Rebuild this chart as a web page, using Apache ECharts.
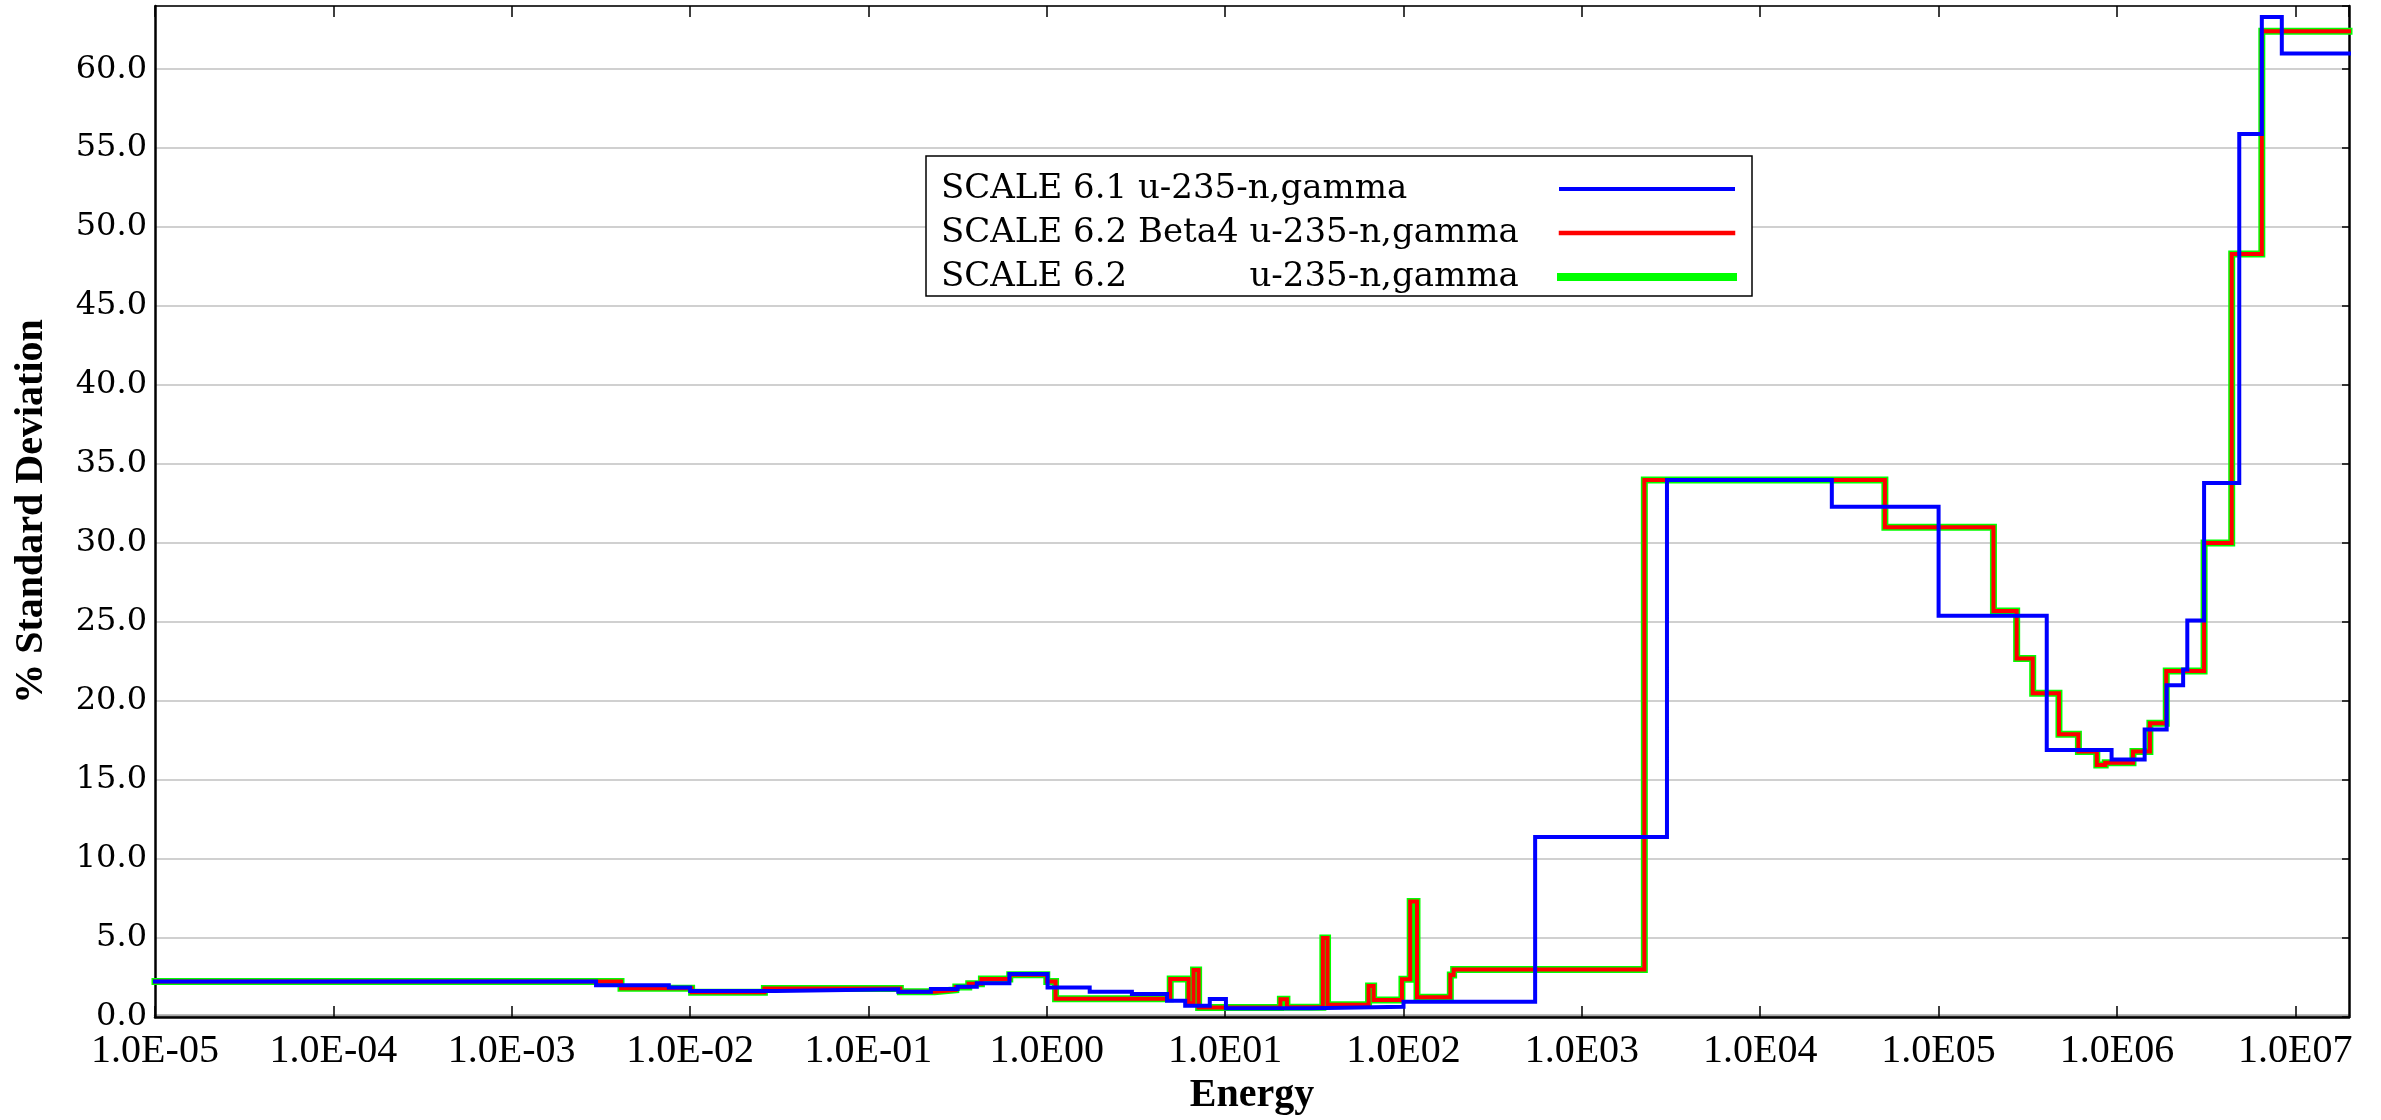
<!DOCTYPE html>
<html>
<head>
<meta charset="utf-8">
<title>% Standard Deviation vs Energy</title>
<script src="https://cdn.jsdelivr.net/npm/echarts@6/dist/echarts.min.js"></script>
<style>
  html, body { margin: 0; padding: 0; background: #ffffff; }
  #chart { width: 2381px; height: 1120px; }
</style>
</head>
<body>
<div id="chart"></div>
<script>
// Energy axis (log scale) range and decade tick labels
const energyMin = 1e-5;
const energyMax = 2e7;
const energyTickLabels = [
  '1.0E-05', '1.0E-04', '1.0E-03', '1.0E-02', '1.0E-01', '1.0E00',
  '1.0E01', '1.0E02', '1.0E03', '1.0E04', '1.0E05', '1.0E06', '1.0E07'
];

// Series names as shown in the legend
const seriesNames = [
  'SCALE 6.1 u-235-n,gamma',
  'SCALE 6.2 Beta4 u-235-n,gamma',
  'SCALE 6.2 u-235-n,gamma'
];

// SCALE 6.1: lower group boundaries (eV) and % standard deviation per group
const scale61Energy = [
  1e-5, 2.97e-3, 7.6e-3, 1.0e-2, 3.03e-2, 0.147, 0.224, 0.316, 0.405, 0.617,
  1.01, 1.74, 3.0, 4.72, 5.97, 8.2, 10.1, 30.4, 100, 547,
  3.0e3, 2.52e4, 1.0e5, 4.04e5, 9.33e5, 1.43e6, 1.90e6, 2.35e6, 2.48e6, 3.08e6,
  4.85e6, 6.49e6, 8.4e6
];
const scale61Sigma = [
  2.24, 2.01, 1.86, 1.65, 1.75, 1.60, 1.77, 1.92, 2.13, 2.72,
  1.87, 1.60, 1.46, 1.03, 0.72, 1.14, 0.55, 0.65, 0.97, 11.4,
  34.0, 32.3, 25.4, 16.9, 16.3, 18.2, 21.0, 22.0, 25.1, 33.8,
  55.9, 63.3, 61.0
];

// SCALE 6.2 Beta4
const scale62b4Energy = [
  1e-5, 4.1e-3, 1.02e-2, 2.61e-2, 0.151, 0.235, 0.309, 0.365, 0.43, 0.62,
  1.0, 1.12, 4.92, 6.24, 6.65, 7.10, 20.4, 22.2, 35.3, 37.5,
  63.7, 68, 98, 109, 119, 183, 191, 2.24e3, 5.0e4, 2.03e5,
  2.74e5, 3.37e5, 4.73e5, 6.08e5, 7.71e5, 8.59e5, 1.23e6, 1.53e6, 1.89e6, 3.08e6,
  4.4e6, 6.49e6
];
const scale62b4Sigma = [
  2.24, 1.82, 1.57, 1.80, 1.60, 1.72, 1.90, 2.10, 2.40, 2.68,
  2.25, 1.15, 2.41, 0.87, 2.98, 0.60, 1.12, 0.62, 5.0, 0.78,
  1.96, 1.08, 2.39, 7.31, 1.25, 2.66, 3.0, 34.0, 31.0, 25.7,
  22.7, 20.5, 17.9, 16.8, 15.95, 16.1, 16.8, 18.6, 21.9, 30.0,
  48.3, 62.4
];

// SCALE 6.2 release
const scale62Energy = [
  1e-5, 4.1e-3, 1.02e-2, 2.61e-2, 0.151, 0.235, 0.309, 0.365, 0.43, 0.62,
  1.0, 1.12, 4.92, 6.24, 6.65, 7.10, 20.4, 22.2, 35.3, 37.5,
  63.7, 68, 98, 109, 119, 183, 191, 2.24e3, 5.0e4, 2.03e5,
  2.74e5, 3.37e5, 4.73e5, 6.08e5, 7.71e5, 8.59e5, 1.23e6, 1.53e6, 1.89e6, 3.08e6,
  4.4e6, 6.49e6
];
const scale62Sigma = [
  2.24, 1.82, 1.57, 1.80, 1.60, 1.72, 1.90, 2.10, 2.40, 2.68,
  2.25, 1.15, 2.41, 0.87, 2.98, 0.60, 1.12, 0.62, 5.0, 0.78,
  1.96, 1.08, 2.39, 7.31, 1.25, 2.66, 3.0, 34.0, 31.0, 25.7,
  22.7, 20.5, 17.9, 16.8, 15.95, 16.1, 16.8, 18.6, 21.9, 30.0,
  48.3, 62.4
];

// Group-wise histogram: each value holds from its lower boundary to the next one,
// the last group runs to the top of the energy range.
function groupSteps(energy, sigma) {
  const pts = energy.map((e, i) => [e, sigma[i]]);
  pts.push([energyMax, sigma[sigma.length - 1]]);
  return pts;
}

function measure(text, font) {
  const ctx = document.createElement('canvas').getContext('2d');
  ctx.font = font;
  return ctx.measureText(text).width;
}

const legendFont = 'DejaVu Serif';
const legendSize = 34;
const legendTextWidth = 615;
const prefixWidth = measure('SCALE 6.2 Beta4 ', legendSize + 'px "' + legendFont + '"');

const legendText = { fontFamily: legendFont, fontSize: legendSize, lineHeight: 34, color: '#000', align: 'left' };

const chart = echarts.init(document.getElementById('chart'), null, { renderer: 'canvas' });

const lineBase = { type: 'line', step: 'end', symbol: 'none', showSymbol: false, animation: false, clip: true };

chart.setOption({
  animation: false,
  backgroundColor: '#ffffff',
  grid: { left: 155, right: 32, top: 6, bottom: 103, containLabel: false, outerBoundsMode: 'none' },
  legend: {
    show: true,
    orient: 'vertical',
    align: 'right',
    left: 926,
    top: 156,
    padding: [16, 15, 2, 15],
    itemGap: 10,
    itemWidth: 172,
    itemHeight: 14,
    borderColor: '#000',
    borderWidth: 1.5,
    borderRadius: 0,
    backgroundColor: '#ffffff',
    selectedMode: false,
    itemStyle: { opacity: 0 },
    data: [
      { name: seriesNames[0], lineStyle: { width: 4 } },
      { name: seriesNames[1], lineStyle: { width: 4.5 } },
      { name: seriesNames[2], lineStyle: { width: 8 } }
    ],
    formatter: function (name) {
      if (name === seriesNames[2]) return '{a|SCALE 6.2 }{b|u-235-n,gamma}';
      return '{t|' + name + '}';
    },
    textStyle: {
      fontFamily: legendFont, fontSize: legendSize, color: '#000',
      rich: {
        t: Object.assign({}, legendText, { width: legendTextWidth }),
        a: Object.assign({}, legendText, { width: prefixWidth }),
        b: Object.assign({}, legendText, { width: legendTextWidth - prefixWidth })
      }
    }
  },
  xAxis: [
    {
      type: 'log', logBase: 10, min: energyMin, max: energyMax, interval: 1,
      position: 'bottom',
      name: 'Energy', nameLocation: 'middle', nameGap: 59,
      nameTextStyle: { fontFamily: 'Liberation Serif', fontWeight: 'bold', fontSize: 40, color: '#000' },
      axisLine: { show: true, onZero: false, lineStyle: { color: '#000', width: 2.5, shadowColor: 'rgba(0,0,0,0.35)', shadowOffsetY: -2 } },
      axisTick: { show: true, inside: true, length: 11, lineStyle: { color: '#000', width: 1.5 } },
      minorTick: { show: false },
      axisLabel: {
        show: true, margin: 14, color: '#000', fontFamily: 'Liberation Serif', fontSize: 40,
        showMinLabel: true, showMaxLabel: false,
        formatter: function (v) {
          const p = Math.log10(v);
          if (Math.abs(p - Math.round(p)) > 1e-6) return '';
          return energyTickLabels[Math.round(p) + 5] || '';
        }
      },
      splitLine: { show: false }
    },
    {
      type: 'log', logBase: 10, min: energyMin, max: energyMax, interval: 1,
      position: 'top',
      axisLine: { show: true, onZero: false, lineStyle: { color: '#000', width: 1.5 } },
      axisTick: { show: true, inside: true, length: 11, lineStyle: { color: '#000', width: 1.5 } },
      axisLabel: { show: false },
      splitLine: { show: false }
    }
  ],
  yAxis: [
    {
      type: 'value', min: 0, max: 64, interval: 5, position: 'left',
      name: '% Standard Deviation', nameLocation: 'middle', nameGap: 103, nameRotate: 90,
      nameTextStyle: { fontFamily: 'Liberation Serif', fontWeight: 'bold', fontSize: 40, color: '#000' },
      axisLine: { show: true, onZero: false, lineStyle: { color: '#000', width: 2.5 } },
      axisTick: { show: false },
      axisLabel: {
        show: true, margin: 8, color: '#000', fontFamily: 'DejaVu Serif', fontSize: 32,
        showMaxLabel: false,
        formatter: function (v) { return v % 5 === 0 ? v.toFixed(1) : ''; }
      },
      splitLine: { show: true, lineStyle: { color: '#c0c0c0', width: 1.6 } }
    },
    {
      type: 'value', min: 0, max: 64, interval: 5, position: 'right',
      axisLine: { show: true, onZero: false, lineStyle: { color: '#000', width: 2.5 } },
      axisTick: { show: true, inside: true, length: 7, lineStyle: { color: '#000', width: 1.5 } },
      axisLabel: { show: false },
      splitLine: { show: false }
    }
  ],
  series: [
    Object.assign({}, lineBase, {
      name: seriesNames[0], z: 4,
      data: groupSteps(scale61Energy, scale61Sigma),
      itemStyle: { color: '#0000ff' },
      lineStyle: { color: '#0000ff', width: 4, join: 'miter', cap: 'square' }
    }),
    Object.assign({}, lineBase, {
      name: seriesNames[1], z: 3,
      data: groupSteps(scale62b4Energy, scale62b4Sigma),
      itemStyle: { color: '#ff0000' },
      lineStyle: { color: '#ff0000', width: 4, join: 'miter', cap: 'square' }
    }),
    Object.assign({}, lineBase, {
      name: seriesNames[2], z: 2,
      data: groupSteps(scale62Energy, scale62Sigma),
      itemStyle: { color: '#00ff00' },
      lineStyle: { color: '#00ff00', width: 7, join: 'miter', cap: 'square' }
    })
  ]
});
</script>
</body>
</html>
